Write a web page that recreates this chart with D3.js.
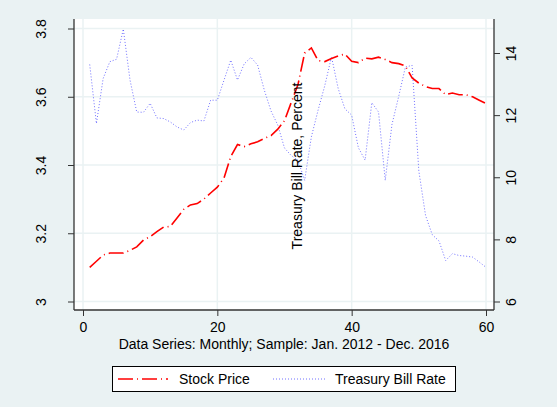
<!DOCTYPE html>
<html>
<head>
<meta charset="utf-8">
<script src="https://cdn.jsdelivr.net/npm/d3@7"></script>
<style>
  body { margin: 0; background: #eaf2f3; }
  svg { display: block; font-family: "Liberation Sans", Arial, sans-serif; }
  .grid line { stroke: #eaf2f3; stroke-width: 1.5; }
  .axis path, .axis line { stroke: #333; }
  .axis text { font-size: 14px; fill: #000; font-family: "Liberation Sans", Arial, sans-serif; }
</style>
</head>
<body>
<svg width="557" height="407"></svg>
<script>
// month index 1..60 (Jan 2012 - Dec 2016)
const months = d3.range(1, 61);

// log stock price index (left axis)
const stockPrice = [
  3.100, 3.118, 3.136, 3.142, 3.142, 3.142, 3.150, 3.160, 3.180, 3.190,
  3.205, 3.218, 3.220, 3.245, 3.270, 3.283, 3.287, 3.300, 3.318, 3.335,
  3.362, 3.425, 3.460, 3.454, 3.462, 3.468, 3.478, 3.486, 3.505, 3.530,
  3.583, 3.635, 3.728, 3.743, 3.706, 3.703, 3.712, 3.720, 3.725, 3.704,
  3.700, 3.713, 3.711, 3.716, 3.709, 3.700, 3.697, 3.690, 3.655, 3.640,
  3.630, 3.624, 3.624, 3.606, 3.611, 3.606, 3.606, 3.600, 3.590, 3.580
];

// treasury bill rate, percent (right axis)
const tbillRate = [
  13.63, 11.73, 13.18, 13.72, 13.80, 14.77, 13.13, 12.10, 12.09, 12.38,
  11.91, 11.89, 11.78, 11.62, 11.52, 11.76, 11.84, 11.81, 12.48, 12.48,
  13.13, 13.77, 13.13, 13.65, 13.86, 13.61, 12.80, 12.13, 11.68, 10.94,
  10.70, 10.55, 9.90, 11.30, 12.16, 12.95, 13.88, 12.85, 12.20, 12.00,
  10.95, 10.55, 12.40, 12.10, 9.90, 11.70, 12.60, 13.55, 13.60, 10.20,
  8.77, 8.15, 7.95, 7.32, 7.54, 7.48, 7.46, 7.43, 7.27, 7.10
];

const xTicks = [0, 20, 40, 60];
const leftTicks = [3, 3.2, 3.4, 3.6, 3.8];
const rightTicks = [6, 8, 10, 12, 14];

const xTitle = "Data Series: Monthly; Sample: Jan. 2012 - Dec. 2016";
const rightTitle = "Treasury Bill Rate, Percent";
const legendLabels = ["Stock Price", "Treasury Bill Rate"];

var svg = d3.select("svg"),
    width = +svg.attr("width"),
    height = +svg.attr("height");

// plot region box
const plot = { left: 74, right: 494, top: 19, bottom: 310 };

var x = d3.scaleLinear().domain([0, 60]).range([83, 486]);
var yL = d3.scaleLinear().domain([3, 3.8]).range([301.5, 28.5]);
var yR = d3.scaleLinear().domain([6, 14]).range([301.5, 53]);

svg.append("rect")
    .attr("width", width)
    .attr("height", height)
    .attr("fill", "#eaf2f3");

svg.append("rect")
    .attr("x", plot.left)
    .attr("y", plot.top)
    .attr("width", plot.right - plot.left)
    .attr("height", plot.bottom - plot.top)
    .attr("fill", "#fff");

// grid
var grid = svg.append("g").attr("class", "grid");
grid.selectAll(".h").data(leftTicks).join("line")
    .attr("x1", plot.left).attr("x2", plot.right)
    .attr("y1", d => yL(d)).attr("y2", d => yL(d));
grid.selectAll(".v").data(xTicks).join("line")
    .attr("y1", plot.top).attr("y2", plot.bottom)
    .attr("x1", d => x(d)).attr("x2", d => x(d));

// axes
var xAxis = d3.axisBottom(x).tickValues(xTicks).tickSize(6).tickSizeOuter(0).tickPadding(6);
var gX = svg.append("g")
    .attr("class", "axis")
    .attr("transform", `translate(0,${plot.bottom})`)
    .call(xAxis);
gX.select(".domain").attr("d", `M${plot.left},0H${plot.right}`).attr("stroke-width", 1.3);

var yAxisL = d3.axisLeft(yL).tickValues(leftTicks).tickSize(6).tickSizeOuter(0).tickFormat(d3.format(""));
var gYL = svg.append("g")
    .attr("class", "axis")
    .attr("transform", `translate(${plot.left},0)`)
    .call(yAxisL);
gYL.select(".domain").attr("d", `M0,${plot.top}V${plot.bottom}`).attr("stroke-width", 1.3);
gYL.selectAll(".tick text")
    .attr("transform", "rotate(-90)")
    .attr("text-anchor", "middle")
    .attr("x", 0).attr("dy", 0)
    .attr("y", -28);

var yAxisR = d3.axisRight(yR).tickValues(rightTicks).tickSize(6).tickSizeOuter(0);
var gYR = svg.append("g")
    .attr("class", "axis")
    .attr("transform", `translate(${plot.right},0)`)
    .call(yAxisR);
gYR.select(".domain").attr("d", `M0,${plot.top}V${plot.bottom}`).attr("stroke-width", 1.3);
gYR.selectAll(".tick text")
    .attr("transform", "rotate(-90)")
    .attr("text-anchor", "middle")
    .attr("x", 0).attr("dy", 0)
    .attr("y", 22);

// series
var lineL = d3.line().x((d, i) => x(months[i])).y(d => yL(d));
var lineR = d3.line().x((d, i) => x(months[i])).y(d => yR(d));

svg.append("path")
    .datum(tbillRate)
    .attr("d", lineR)
    .attr("fill", "none")
    .attr("stroke", "#4d4dff")
    .attr("stroke-width", 0.8)
    .attr("stroke-dasharray", "1,2");

svg.append("path")
    .datum(stockPrice)
    .attr("d", lineL)
    .attr("fill", "none")
    .attr("stroke", "#ff0000")
    .attr("stroke-width", 1.6)
    .attr("stroke-dasharray", "15,4,1,4");

// right axis title (drawn inside the plot, as in the source)
svg.append("text")
    .attr("transform", "translate(302,166) rotate(-90)")
    .attr("text-anchor", "middle")
    .attr("font-size", 14)
    .text(rightTitle);

// x title
svg.append("text")
    .attr("x", 284)
    .attr("y", 349)
    .attr("text-anchor", "middle")
    .attr("font-size", 14)
    .text(xTitle);

// legend
var legend = svg.append("g");
legend.append("rect")
    .attr("x", 112.5).attr("y", 366.5)
    .attr("width", 343).attr("height", 25)
    .attr("fill", "#fff")
    .attr("stroke", "#000");

legend.append("line")
    .attr("x1", 118).attr("x2", 168).attr("y1", 379).attr("y2", 379)
    .attr("stroke", "#ff0000").attr("stroke-width", 1.6)
    .attr("stroke-dasharray", "15,4,1,4");
legend.append("text")
    .attr("x", 179).attr("y", 384)
    .attr("font-size", 14)
    .text(legendLabels[0]);

legend.append("line")
    .attr("x1", 273).attr("x2", 327).attr("y1", 379).attr("y2", 379)
    .attr("stroke", "#4d4dff").attr("stroke-width", 0.8)
    .attr("stroke-dasharray", "1,2");
legend.append("text")
    .attr("x", 335).attr("y", 384)
    .attr("font-size", 14)
    .text(legendLabels[1]);
</script>
</body>
</html>
